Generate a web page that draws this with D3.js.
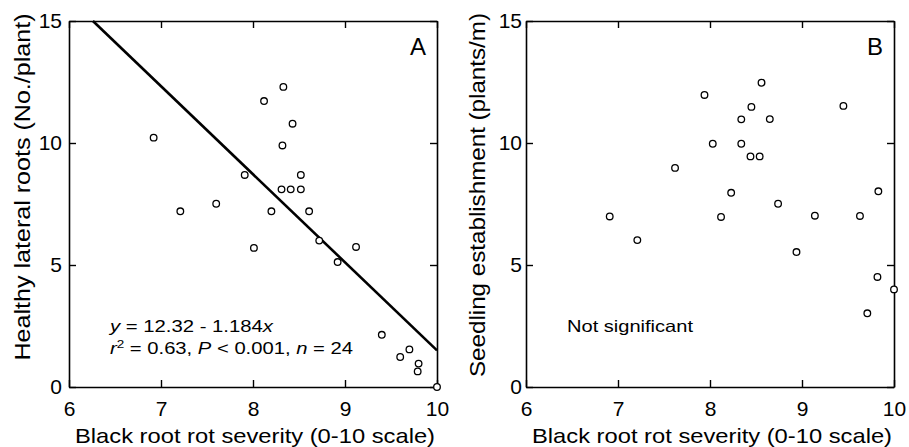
<!DOCTYPE html>
<html>
<head>
<meta charset="utf-8">
<script src="https://cdn.jsdelivr.net/npm/d3@7"></script>
<style>
    body { margin: 0; background: #fff; }
    svg { font-family: "Liberation Sans", Arial, sans-serif; }
    .domain { stroke: #000; stroke-width: 1.6; }
    .tick line { stroke: #000; stroke-width: 1.4; }
    .tick text { font-size: 21px; fill: #000; }
</style>
</head>
<body>
<div id="chart"></div>
<script>
// severity vs healthy lateral roots (panel A)
const rootsX = [6.92, 7.21, 7.60, 7.91, 8.01, 8.12, 8.20, 8.33, 8.32, 8.43, 8.31, 8.41,
                8.52, 8.52, 8.61, 8.72, 8.92, 9.12, 9.40, 9.60, 9.70, 9.80, 9.79, 10.0];
const rootsY = [10.22, 7.2, 7.51, 8.69, 5.70, 11.72, 7.2, 12.30, 9.90, 10.79, 8.10, 8.10,
                8.10, 8.69, 7.2, 6.0, 5.12, 5.74, 2.14, 1.23, 1.54, 0.96, 0.64, 0.0];

// fitted line end points (panel A)
const fitX = [6.26, 10.0];
const fitY = [15.0, 1.5];

// severity vs seedling establishment (panel B)
const seedX = [6.91, 7.21, 7.62, 7.94, 8.03, 8.12, 8.23, 8.34, 8.34, 8.45, 8.44, 8.54,
               8.56, 8.65, 8.74, 8.94, 9.14, 9.45, 9.63, 9.83, 9.82, 9.71, 10.0];
const seedY = [6.99, 6.02, 8.98, 11.97, 9.97, 6.97, 7.96, 10.97, 9.97, 11.48, 9.45, 9.45,
               12.47, 10.98, 7.51, 5.53, 7.02, 11.52, 7.01, 8.02, 4.51, 3.02, 4.0];

const xTicks = [6, 7, 8, 9, 10];
const yTicks = [0, 5, 10, 15];
const xTitle = "Black root rot severity (0-10 scale)";

const svg = d3.select("#chart").append("svg")
    .attr("width", 909)
    .attr("height", 447);

function drawPanel(cfg) {
    let g = svg.append("g")
        .attr("transform", `translate(${cfg.left}, ${cfg.top})`);

    let w = cfg.width, h = cfg.height;

    let x = d3.scaleLinear().domain([6, 10]).range([0, w]);
    let y = d3.scaleLinear().domain([0, 15]).range([h, 0]);

    // frame: ticks point inward on every side
    g.append("g")
        .attr("transform", `translate(0, ${h})`)
        .call(d3.axisBottom(x).tickValues(xTicks).tickFormat(d3.format("d"))
            .tickSizeInner(-7).tickSizeOuter(0).tickPadding(14));
    g.append("g")
        .call(d3.axisTop(x).tickValues(xTicks).tickSizeInner(-7).tickSizeOuter(0).tickFormat(""));
    g.append("g")
        .call(d3.axisLeft(y).tickValues(yTicks).tickFormat(d3.format("d"))
            .tickSizeInner(-7).tickSizeOuter(0).tickPadding(cfg.yPad));
    g.append("g")
        .attr("transform", `translate(${w}, 0)`)
        .call(d3.axisRight(y).tickValues(yTicks).tickSizeInner(-7).tickSizeOuter(0).tickFormat(""));

    if (cfg.fit) {
        g.append("line")
            .attr("x1", x(cfg.fit[0][0])).attr("y1", y(cfg.fit[1][0]))
            .attr("x2", x(cfg.fit[0][1])).attr("y2", y(cfg.fit[1][1]))
            .attr("stroke", "#000")
            .attr("stroke-width", 2.6);
    }

    g.selectAll("circle")
        .data(cfg.xs.map((d, i) => [d, cfg.ys[i]]))
        .enter()
    .append("circle")
        .attr("cx", d => x(d[0]))
        .attr("cy", d => y(d[1]))
        .attr("r", 3.3)
        .attr("fill", "#fff")
        .attr("stroke", "#000")
        .attr("stroke-width", 1.3);

    g.append("text")
        .attr("x", w - 11)
        .attr("y", 34)
        .attr("text-anchor", "end")
        .style("font-size", "24px")
        .text(cfg.letter);

    g.append("text")
        .attr("text-anchor", "middle")
        .attr("x", w / 2 + 2)
        .attr("y", h + 56)
        .attr("textLength", 360)
        .attr("lengthAdjust", "spacingAndGlyphs")
        .style("font-size", "21px")
        .text(xTitle);

    g.append("text")
        .attr("text-anchor", "middle")
        .attr("transform", `translate(${cfg.yTitleX}, ${h / 2 + cfg.yTitleShift}) rotate(-90)`)
        .attr("textLength", cfg.yTitleLen)
        .attr("lengthAdjust", "spacingAndGlyphs")
        .style("font-size", "22px")
        .text(cfg.yTitle);

    return {g, x, y};
}

let a = drawPanel({
    left: 69, top: 21, width: 368, height: 366,
    xs: rootsX, ys: rootsY, fit: [fitX, fitY],
    letter: "A", yTitle: "Healthy lateral roots (No./plant)",
    yTitleX: -39, yTitleShift: -17, yTitleLen: 347, yPad: 7
});

let eq = a.g.append("text")
    .attr("x", 41)
    .attr("y", 311)
    .attr("textLength", 163)
    .attr("lengthAdjust", "spacingAndGlyphs")
    .style("font-size", "16.5px");
eq.append("tspan").style("font-style", "italic").text("y");
eq.append("tspan").text(" = 12.32 - 1.184");
eq.append("tspan").style("font-style", "italic").text("x");

let eq2 = a.g.append("text")
    .attr("x", 41)
    .attr("y", 333)
    .attr("textLength", 243)
    .attr("lengthAdjust", "spacingAndGlyphs")
    .style("font-size", "16.5px");
eq2.append("tspan").style("font-style", "italic").text("r");
eq2.append("tspan").attr("dy", -6).style("font-size", "11px").text("2");
eq2.append("tspan").attr("dy", 6).text(" = 0.63, ");
eq2.append("tspan").style("font-style", "italic").text("P");
eq2.append("tspan").text(" < 0.001, ");
eq2.append("tspan").style("font-style", "italic").text("n");
eq2.append("tspan").text(" = 24");

let b = drawPanel({
    left: 526, top: 21, width: 368, height: 366,
    xs: seedX, ys: seedY, fit: null,
    letter: "B", yTitle: "Seedling establishment (plants/m)",
    yTitleX: -41, yTitleShift: -9, yTitleLen: 364, yPad: 4
});

b.g.append("text")
    .attr("x", 41)
    .attr("y", 311)
    .attr("textLength", 126)
    .attr("lengthAdjust", "spacingAndGlyphs")
    .style("font-size", "16.5px")
    .text("Not significant");
</script>
</body>
</html>
